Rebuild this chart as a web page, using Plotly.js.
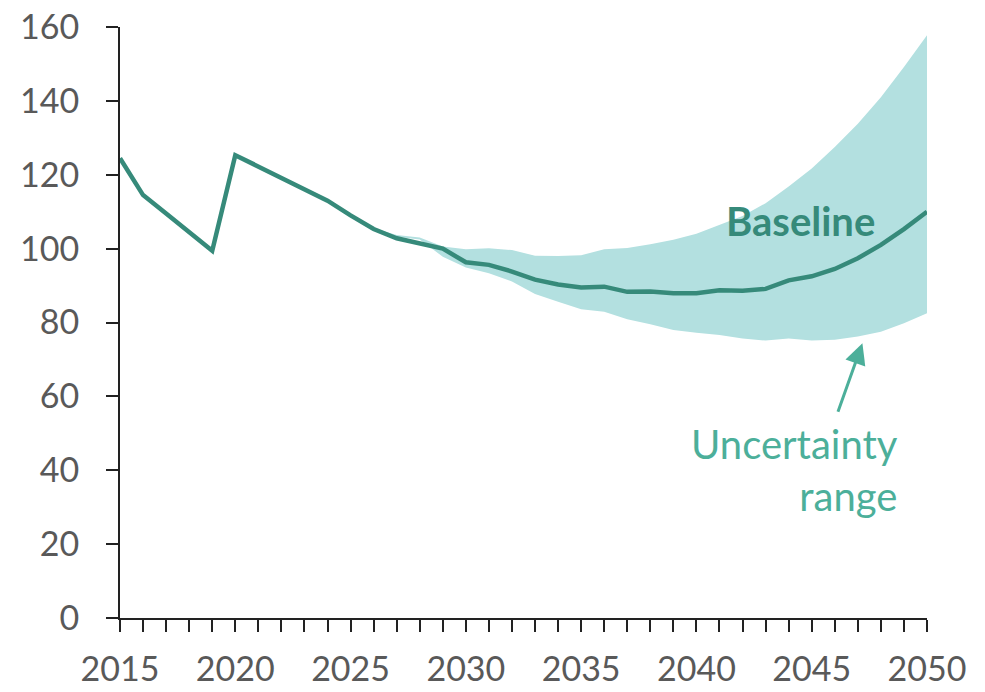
<!DOCTYPE html>
<html>
<head>
<meta charset="utf-8">
<script src="https://cdn.plot.ly/plotly-3.0.1.min.js"></script>
<style>html,body{margin:0;padding:0;background:#fff;}#chart{width:985px;height:692px;}</style>
</head>
<body>
<div id="chart"></div>
<script>
const years = [2015,2016,2017,2018,2019,2020,2021,2022,2023,2024,2025,2026,2027,2028,2029,2030,2031,2032,2033,2034,2035,2036,2037,2038,2039,2040,2041,2042,2043,2044,2045,2046,2047,2048,2049,2050];
const baseline = [124.5,114.5,109.5,104.5,99.4,125.3,122.2,119.0,116.0,113.0,109.0,105.3,102.8,101.3,100.0,96.3,95.6,93.8,91.6,90.3,89.5,89.7,88.3,88.4,87.9,87.9,88.7,88.6,89.1,91.4,92.5,94.5,97.4,101.0,105.3,110.0];
const rangeYears = [2026,2027,2028,2029,2030,2031,2032,2033,2034,2035,2036,2037,2038,2039,2040,2041,2042,2043,2044,2045,2046,2047,2048,2049,2050];
const upper = [105.5,103.7,103.0,100.6,99.8,100.1,99.6,98.1,98.0,98.2,99.8,100.2,101.2,102.4,104.0,106.5,108.8,112.3,116.8,121.7,127.5,133.8,141.0,149.2,157.8];
const lower = [105.0,103.2,102.5,97.8,94.9,93.3,91.1,87.7,85.6,83.6,82.9,80.9,79.5,78.0,77.2,76.6,75.7,75.1,75.7,75.1,75.3,76.2,77.5,79.8,82.5];
const seriesLabel = "Baseline";
const rangeLabel = "Uncertainty<br>range";

const lineColor = "#368a7a";
const bandColor = "#b3e0e0";
const noteColor = "#4caf9a";
const font = "Lato, 'Open Sans', sans-serif";

const traces = [
  {x: rangeYears, y: lower, type: "scatter", mode: "lines", line: {width: 0, color: bandColor}, hoverinfo: "skip", showlegend: false},
  {x: rangeYears, y: upper, type: "scatter", mode: "lines", line: {width: 0, color: bandColor}, fill: "tonexty", fillcolor: bandColor, showlegend: false},
  {x: years, y: baseline, type: "scatter", mode: "lines", line: {width: 4.5, color: lineColor}, showlegend: false}
];

const layout = {
  width: 985, height: 692,
  margin: {l: 120, r: 58, t: 27, b: 74},
  paper_bgcolor: "#fff", plot_bgcolor: "#fff",
  font: {family: font, size: 34, color: "#595959"},
  xaxis: {
    range: [2015, 2050], showgrid: false, zeroline: false,
    showline: true, linecolor: "#222", linewidth: 2,
    tickmode: "linear", tick0: 2015, dtick: 5,
    ticks: "outside", ticklen: 12, tickwidth: 2, tickcolor: "#222",
    minor: {dtick: 1, tick0: 2015, ticks: "outside", ticklen: 12, tickwidth: 2, tickcolor: "#222", showgrid: false},
    ticklabelstandoff: 8,
    tickfont: {family: font, size: 34, color: "#595959"}
  },
  yaxis: {
    range: [0, 160], showgrid: false, zeroline: false,
    showline: true, linecolor: "#222", linewidth: 2,
    tickmode: "linear", tick0: 0, dtick: 20,
    ticks: "outside", ticklen: 12, tickwidth: 2, tickcolor: "#222",
    ticklabelstandoff: 20,
    tickfont: {family: font, size: 34, color: "#595959"}
  },
  annotations: [
    {x: 2044.5, y: 107.5, xref: "x", yref: "y", text: "<b>" + seriesLabel + "</b>", showarrow: false,
     font: {family: font, size: 40, color: lineColor}, xanchor: "center", yanchor: "middle"},
    {x: 2048.85, y: 40.1, xref: "x", yref: "y", text: rangeLabel, showarrow: false, align: "right",
     font: {family: font, size: 40, color: noteColor}, xanchor: "right", yanchor: "middle"},
    {x: 2047.2, y: 74.4, xref: "x", yref: "y", text: "", showarrow: true, ax: -25, ay: 70,
     arrowhead: 2, arrowsize: 1.4, arrowwidth: 3, arrowcolor: noteColor, standoff: 0}
  ]
};

Plotly.newPlot("chart", traces, layout, {displayModeBar: false, staticPlot: true});
</script>
</body>
</html>
